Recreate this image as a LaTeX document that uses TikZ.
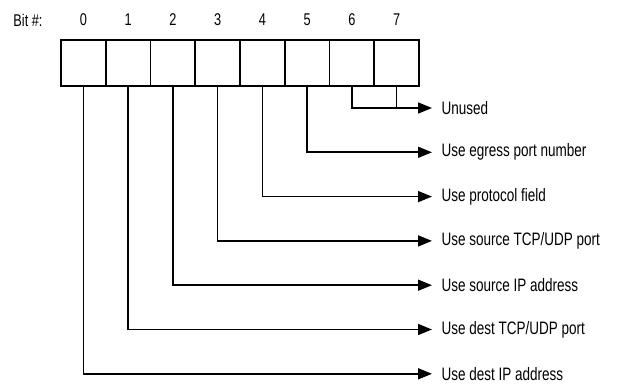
\documentclass[tikz,border=0pt]{standalone}
\usepackage{fontspec}
\setmainfont{Liberation Sans}[FakeStretch=0.75]
\usetikzlibrary{arrows.meta}
\usetikzlibrary{positioning}
\tikzstyle{bitcell}=[draw,line width=1.7pt,minimum width=44.75pt,minimum height=46pt,inner sep=0pt]
\tikzstyle{bitnum}=[inner sep=0pt,font=\fontsize{17}{19}\selectfont]
\tikzstyle{usage}=[anchor=west,inner xsep=9.5pt,inner ysep=0pt,font=\fontsize{18}{20}\selectfont]
\tikzstyle{bitassignment}=[-{Triangle[length=14pt,width=11pt]},line width=1.7pt]
\pgfmathsetmacro{\rowgap}{44.3}

\begin{document}
\begin{tikzpicture}[x=1pt,y=-1pt]
  \useasboundingbox (0,0) rectangle (632,385);
  % the eight bits of the byte
  \foreach \i in {0,...,7} {
    \node[bitcell] (cell\i) at (61+44.75*\i+22.375,63) {};
    \node[bitnum] (bit\i) at (cell\i.center |- 0,20) {\i};
  }
  \node[bitnum] (bithead) at (28,20) {Bit \#:};
  % what each bit selects, bit 0 at the bottom
  \node[usage] (use0) at (432,108+6*\rowgap) {Use dest IP address};
  \node[usage] (use1) at (432,108+5*\rowgap) {Use dest TCP/UDP port};
  \node[usage] (use2) at (432,108+4*\rowgap) {Use source IP address};
  \node[usage] (use3) at (432,108+3*\rowgap) {Use source TCP/UDP port};
  \node[usage] (use4) at (432,108+2*\rowgap) {Use protocol field};
  \node[usage] (use5) at (432,108+1*\rowgap) {Use egress port number};
  \node[usage] (use6) at (432,108) {Unused};
  \foreach \i in {0,...,6} {
    \draw[bitassignment] (cell\i.south) |- (use\i.west);
  }
  %bits 6 and 7 share one arrow
  \draw[line width=1.7pt] (cell7.south) -- (cell7.south |- use6.west);
\end{tikzpicture}
\end{document}
